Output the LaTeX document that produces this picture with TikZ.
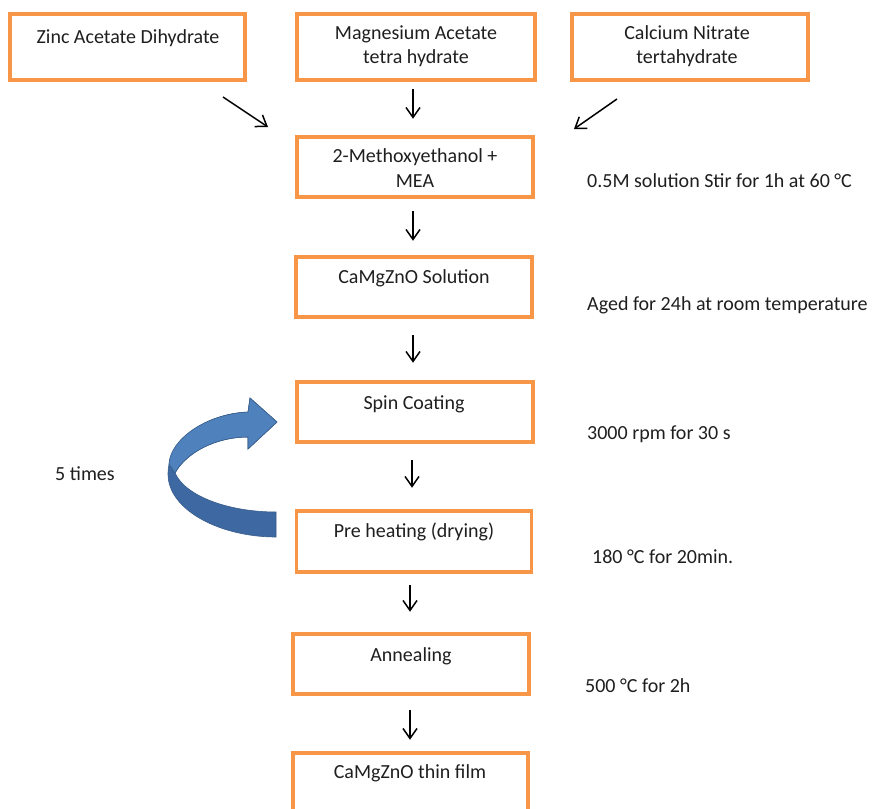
\documentclass[tikz,border=0pt]{standalone}
\usepackage{fontspec}
\setmainfont{Carlito}
\usetikzlibrary{arrows.meta}
\definecolor{boxor}{HTML}{F79646}
\definecolor{blight}{HTML}{4F81BD}
\definecolor{bdark}{HTML}{3D68A2}
\definecolor{bline}{HTML}{385D8A}
\definecolor{txtc}{HTML}{1F1F1F}
\begin{document}
\begin{tikzpicture}[x=1pt,y=-1pt,
  box/.style={draw=boxor, line width=3.5pt, rectangle, inner sep=0pt, fill=white},
  txt/.style={font=\fontsize{20}{20}\selectfont, text=txtc, inner sep=0pt, text height=0.7em, text depth=0.2em, yshift=-4pt},
  side/.style={txt, anchor=west},
  arr/.style={line width=1.5pt, -{Straight Barb[length=10pt,width=14pt,line width=1.5pt]}}]
\clip (0,0) rectangle (872,808);
\fill[white] (0,0) rectangle (872,808);
% boxes
\node[box, minimum width=235pt, minimum height=66pt] (zinc) at (127.5,47) {};
\node[box, minimum width=238pt, minimum height=66pt] (mg) at (416,47) {};
\node[box, minimum width=236pt, minimum height=66pt] (ca) at (690,47) {};
\node[box, minimum width=236pt, minimum height=60pt] (meth) at (415,167) {};
\node[box, minimum width=236pt, minimum height=60pt] (sol) at (414,287) {};
\node[box, minimum width=236pt, minimum height=60pt] (spin) at (415,412) {};
\node[box, minimum width=235pt, minimum height=61pt] (pre) at (414,541.5) {};
\node[box, minimum width=236pt, minimum height=60pt] (ann) at (411,664) {};
\node[box, minimum width=235pt, minimum height=62pt] (film) at (410.5,784) {};
% box texts
\node[txt] (tzinc) at (128,37) {Zinc Acetate Dihydrate};
\node[txt] (tmg1) at (416,33) {Magnesium Acetate};
\node[txt] (tmg2) at (416,57) {tetra hydrate};
\node[txt] (tca1) at (687,33) {Calcium Nitrate};
\node[txt] (tca2) at (687,57) {tertahydrate};
\node[txt] (tme1) at (415,156) {2-Methoxyethanol +};
\node[txt] (tme2) at (415,181) {MEA};
\node[txt] (tsol) at (414,277) {CaMgZnO Solution};
\node[txt] (tspin) at (414,403) {Spin Coating};
\node[txt] (tpre) at (414,531) {Pre heating (drying)};
\node[txt] (tann) at (411,655) {Annealing};
\node[txt] (tfilm) at (410,772) {CaMgZnO thin film};
% side texts
\node[side] (s1) at (587,181) {0.5M solution Stir for 1h at 60 °C};
\node[side] (s2) at (587,304) {Aged for 24h at room temperature};
\node[side] (s3) at (587,433) {3000 rpm for 30 s};
\node[side] (s4) at (592,557) {180 °C for 20min.};
\node[side] (s5) at (585,686) {500 °C for 2h};
\node[side] (s6) at (55,474) {5 times};
% arrows from reagents
\coordinate (z0) at (223,97);
\coordinate (z1) at (268,127);
\coordinate (c0) at (617,99);
\coordinate (c1) at (574,129);
\draw[arr] (z0) -- (z1);
\draw[arr] (c0) -- (c1);
\draw[arr] ([shift={(-3,7.5)}]mg.south) -- ([shift={(-2,-16.5)}]meth.north);
% vertical arrows
\draw[arr] ([shift={(-2,12.5)}]meth.south) -- ([shift={(-1,-14.5)}]sol.north);
\draw[arr] ([shift={(-1,16.5)}]sol.south) -- ([shift={(-2,-17.5)}]spin.north);
\draw[arr] ([shift={(-3,16.5)}]spin.south) -- ([shift={(-2,-21.5)}]pre.north);
\draw[arr] ([shift={(-4,11.5)}]pre.south) -- ([shift={(-1,-20.5)}]ann.north);
\draw[arr] ([shift={(-1,14.5)}]ann.south) -- ([shift={(-0.5,-11.5)}]film.north);
% curved loop arrow
\fill[bdark, draw=bline, line width=0.6pt]
  (248,412) .. controls (205,414) and (168,440) .. (168,474)
  .. controls (168,510) and (220,537) .. (276,537)
  -- (276,512)
  .. controls (230,512) and (186,497) .. (175,473)
  .. controls (186,453) and (215,437) .. (248,437)
  -- (248,449) -- (277,422) -- (250,398) -- cycle;
\fill[blight, draw=bline, line width=0.6pt]
  (248,412) .. controls (205,414) and (170,440) .. (169,464)
  -- (175,473)
  .. controls (186,453) and (215,437) .. (248,437)
  -- (248,449) -- (277,422) -- (250,398) -- cycle;
\end{tikzpicture}
\end{document}
